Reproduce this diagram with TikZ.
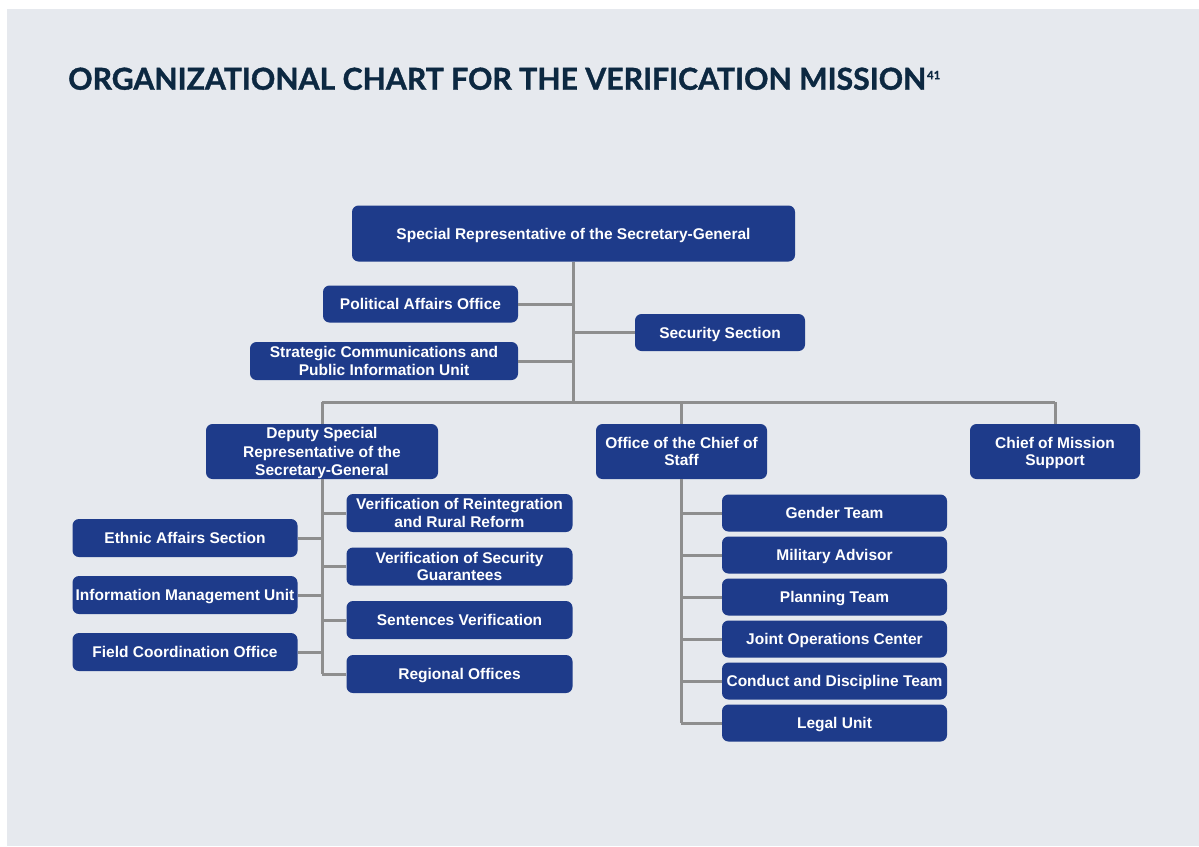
\documentclass[tikz,border=0pt]{standalone}
\usepackage{fontspec}
\setmainfont{Liberation Sans}
\newfontfamily\titlefont[BoldFeatures={FakeBold=1.2}]{Lato}
\definecolor{pagebg}{HTML}{E6E9EE}
\definecolor{boxblue}{HTML}{1E3B8A}
\definecolor{linkgray}{HTML}{8E8E8E}
\definecolor{titlenavy}{HTML}{0C2841}
\tikzset{
  unit/.style={fill=boxblue, rounded corners=6.5pt, text=white, align=center,
    inner sep=0pt, text depth=0pt, font=\bfseries\fontsize{15.5}{17.5}\selectfont},
  link/.style={draw=linkgray, line width=3pt},
}
\begin{document}
\begin{tikzpicture}[x=1pt,y=-1pt]
  % page and panel
  \fill[white] (0,0) rectangle (1199,846);
  \fill[pagebg] (7,9) rectangle (1199,846);
  \useasboundingbox (0,0) rectangle (1199,846);

  % heading
  \node[anchor=base west, inner sep=0pt, text=titlenavy,
        font=\titlefont\bfseries\fontsize{30.2}{30.2}\selectfont] (title) at (68,89.7)
    {ORGANIZATIONAL CHART FOR THE VERIFICATION MISSION\kern1pt\raisebox{10.5pt}{\fontsize{11.5}{11.5}\selectfont 41}};

  % top level
  \node[unit, minimum width=443pt, minimum height=56pt] (srsg) at (573.5,233.5)
    {Special Representative of the Secretary-General};
  \node[unit, minimum width=195pt, minimum height=37pt] (pao) at (420.5,304)
    {Political Affairs Office};
  \node[unit, minimum width=268pt, minimum height=38pt] (scpi) at (384,361)
    {Strategic Communications and\\Public Information Unit};
  \node[unit, minimum width=170pt, minimum height=37pt] (sec) at (720,332.5)
    {Security Section};

  % second level
  \node[unit, minimum width=232pt, minimum height=55pt,
        font=\bfseries\fontsize{15.5}{18.5}\selectfont] (dsrsg) at (322,451.5)
    {Deputy Special\\Representative of the\\Secretary-General};
  \node[unit, minimum width=171pt, minimum height=55pt] (ocs) at (681.5,451.5)
    {Office of the Chief of\\Staff};
  \node[unit, minimum width=170pt, minimum height=55pt] (cms) at (1055,451.5)
    {Chief of Mission\\Support};

  % deputy branch
  \node[unit, minimum width=226pt, minimum height=38pt] (vrr) at (459.5,513)
    {Verification of Reintegration\\and Rural Reform};
  \node[unit, minimum width=226pt, minimum height=38pt] (vsg) at (459.5,566.5)
    {Verification of Security\\Guarantees};
  \node[unit, minimum width=226pt, minimum height=38pt] (sv) at (459.5,620)
    {Sentences Verification};
  \node[unit, minimum width=226pt, minimum height=38pt] (ro) at (459.5,674)
    {Regional Offices};
  \node[unit, minimum width=225pt, minimum height=38pt] (eas) at (185,538)
    {Ethnic Affairs Section};
  \node[unit, minimum width=225pt, minimum height=38pt] (imu) at (185,595)
    {Information Management Unit};
  \node[unit, minimum width=225pt, minimum height=38pt] (fco) at (185,652)
    {Field Coordination Office};

  % chief of staff branch
  \node[unit, minimum width=225pt, minimum height=37pt] (gt) at (834.5,513) {Gender Team};
  \node[unit, minimum width=225pt, minimum height=37pt] (ma) at (834.5,555) {Military Advisor};
  \node[unit, minimum width=225pt, minimum height=37pt] (pt) at (834.5,597) {Planning Team};
  \node[unit, minimum width=225pt, minimum height=37pt] (joc) at (834.5,639) {Joint Operations Center};
  \node[unit, minimum width=225pt, minimum height=37pt] (cdt) at (834.5,681) {Conduct and Discipline Team};
  \node[unit, minimum width=225pt, minimum height=37pt] (lu) at (834.5,723) {Legal Unit};

  % junction points
  \coordinate (hub) at (573.5,402);
  \coordinate (dspine) at (322,674);
  \coordinate (ospine) at (681,723);

  % connectors
  \draw[link] (srsg.south) -- (hub);
  \draw[link] (pao.east) -- (pao.east -| hub);
  \draw[link] (scpi.east) -- (scpi.east -| hub);
  \draw[link] (sec.west) -- (sec.west -| hub);
  \draw[link] (dsrsg.north |- hub) -- (cms.north |- hub);
  \draw[link] (dsrsg.north |- hub) -- (dsrsg.north);
  \draw[link] (ocs.north |- hub) -- (ocs.north);
  \draw[link] (cms.north |- hub) -- (cms.north);

  \draw[link] (dsrsg.south) -- (dspine);
  \foreach \n in {vrr,vsg,sv,ro}
    \draw[link] (\n.west) -- (\n.west -| dspine);
  \foreach \n in {eas,imu,fco}
    \draw[link] (\n.east) -- (\n.east -| dspine);

  \draw[link] (ocs.south -| ospine) -- (ospine);
  \foreach \n in {gt,ma,pt,joc,cdt,lu}
    \draw[link] (\n.west) -- (\n.west -| ospine);
\end{tikzpicture}
\end{document}
